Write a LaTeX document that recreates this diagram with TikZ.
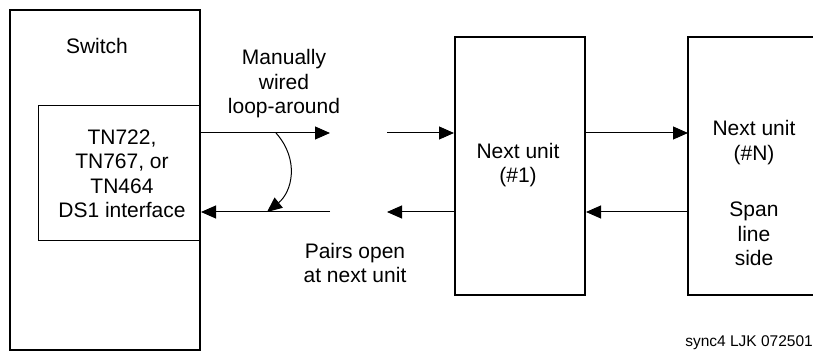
\documentclass[tikz,border=0pt]{standalone}
\usepackage{fontspec}
\setmainfont{Liberation Sans}
\usetikzlibrary{arrows.meta}
\begin{document}
\begin{tikzpicture}[x=1pt,y=-1pt,
  lbl/.style={align=center,inner sep=0pt,font=\fontsize{21}{24.5}\selectfont},
  unitbox/.style={draw,line width=2pt,inner sep=0pt},
  ifbox/.style={draw,line width=0.9pt,inner sep=0pt},
  conn/.style={line width=1pt,-{Triangle[length=15pt,width=13pt]}},
  wire/.style={line width=1pt}]
\useasboundingbox (0,0) rectangle (813,352);
% boxes
\node[unitbox,minimum width=190pt,minimum height=340pt] (sw) at (105,180) {};
\node[ifbox,minimum width=161.5pt,minimum height=135pt] (if) at (119.25,172.5) {};
\node[lbl] (swt) at (97,46) {Switch};
\node[lbl] (ift) at (122,174) {TN722,\\TN767, or\\TN464\\DS1 interface};
\node[unitbox,minimum width=130pt,minimum height=258pt] (u1) at (520,166) {};
\node[lbl] (u1t) at (518,165) {Next unit\\(\#1)};
% partial box for unit N (runs off the right edge)
\coordinate (nTR) at (813,37);
\coordinate (nTL) at (688,37);
\coordinate (nBL) at (688,295);
\coordinate (nBR) at (813,295);
\draw[line width=2pt] (nTR) -- (nTL) -- (nBL) -- (nBR);
\node[lbl] (unt) at (754,142.5) {Next unit\\(\#N)};
\node[lbl] (uns) at (754,234) {Span\\line\\side};
% coordinates of the open ends
\coordinate (a1) at (330,133);
\coordinate (a2) at (387,133);
\coordinate (b1) at (330,212);
\coordinate (b2) at (387,212);
\coordinate (nTa) at (688,133);
\coordinate (nBa) at (688,212);
% connectors
\draw[conn] (sw.east |- a1) -- (a1);
\draw[conn] (a2) -- (u1.west |- a2);
\draw[conn] (b1) -- (sw.east |- b1);
\draw[conn] (u1.west |- b2) -- (b2);
\draw[conn] (u1.east |- nTa) -- (nTa);
\draw[conn] (nBa) -- (u1.east |- nBa);
% loop-around curve
\coordinate (c1) at (276,133);
\coordinate (c2) at (267,212);
\draw[conn] (c1) .. controls (300,160) and (292,192) .. (c2);
% labels
\node[lbl] (man) at (284,84) {Manually\\wired\\loop-around};
\node[lbl] (pairs) at (355,263) {Pairs open\\at next unit};
\node[inner sep=0pt,anchor=base east,font=\fontsize{15.5}{18}\selectfont] (ref) at (813,346) {sync4 LJK 072501};
\end{tikzpicture}
\end{document}
